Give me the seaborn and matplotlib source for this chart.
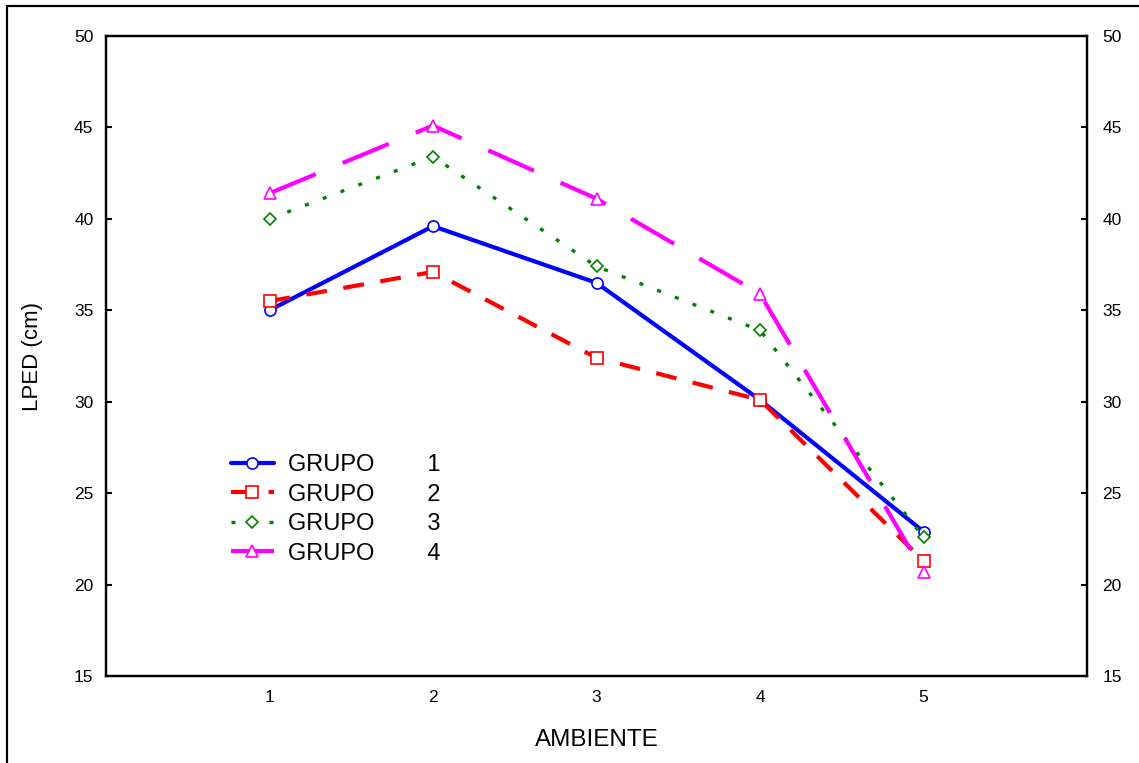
import matplotlib
matplotlib.use("Agg")
import matplotlib.pyplot as plt
from matplotlib.lines import Line2D
import seaborn as sns
import pandas as pd

sns.set_theme(style="white")
plt.rcParams['font.family'] = ['Liberation Sans', 'DejaVu Sans']
plt.rcParams['text.color'] = 'black'
plt.rcParams['axes.labelcolor'] = 'black'

ambiente = [1, 2, 3, 4, 5]
grupo1 = [35.0, 39.6, 36.5, 30.1, 22.9]
grupo2 = [35.5, 37.1, 32.4, 30.1, 21.3]
grupo3 = [40.0, 43.4, 37.4, 33.9, 22.6]
grupo4 = [41.4, 45.1, 41.1, 35.9, 20.7]
labels = ["GRUPO        1", "GRUPO        2", "GRUPO        3", "GRUPO        4"]
yticks = [15, 20, 25, 30, 35, 40, 45, 50]

series = [grupo1, grupo2, grupo3, grupo4]
colors = ["#0000ff", "#ff0000", "#008000", "#ff00ff"]
markers = ["o", "s", "D", "^"]
msizes = [8, 8, 6, 9]
lws = [3.0, 3.0, 2.4, 3.0]
dashes = [None, (5, 4), (1.2, 4.5), (12, 7)]

fig = plt.figure(figsize=(11.39, 7.63), dpi=100)
ax = fig.add_axes([106/1139, 1 - 676/763, (1087-106)/1139, (676-36)/763])

for vals, lab, c, m, ms, lw, d in zip(series, labels, colors, markers, msizes, lws, dashes):
    df = pd.DataFrame({"AMBIENTE": ambiente, "LPED": vals})
    sns.lineplot(data=df, x="AMBIENTE", y="LPED", ax=ax, color=c, lw=lw,
                 marker=m, ms=ms, mfc="white", mec=c, mew=1.2, label=lab)
    line = ax.get_lines()[-1]
    if d is not None:
        line.set_dashes(d)

ax.set_xlim(0, 6)
ax.set_ylim(15, 50)
ax.set_xticks(ambiente)
ax.set_xticklabels([str(a) for a in ambiente])
ax.set_yticks(yticks)
ax.set_yticklabels([str(t) for t in yticks])
ax.set_xlabel("AMBIENTE", fontsize=17.5, labelpad=17, color="black")
ax.set_ylabel("LPED (cm)", fontsize=16, labelpad=22, color="black")
for s in ax.spines.values():
    s.set_color("black")
    s.set_linewidth(1.6)
ax.tick_params(axis="both", direction="in", length=4, width=1.5, colors="black",
               labelsize=12.5, pad=9)
ax.tick_params(axis="x", pad=10)

ax2 = ax.twinx()
ax2.set_ylim(15, 50)
ax2.set_yticks(yticks)
ax2.set_yticklabels([str(t) for t in yticks])
ax2.tick_params(axis="y", direction="in", length=4, width=1.5, colors="black",
                labelsize=12.5, pad=11)
for s in ax2.spines.values():
    s.set_linewidth(1.6)
    s.set_color("black")

leg = ax.legend(loc="upper left", bbox_to_anchor=(0.106, 0.38), frameon=False,
                fontsize=17, handlelength=1.8, handletextpad=0.6, labelspacing=0.32)
for t in leg.get_texts():
    t.set_color("black")

fig.add_artist(Line2D([7/1139, 7/1139], [0, 1 - 6/763], color="black", lw=1.6,
                      transform=fig.transFigure))
fig.add_artist(Line2D([7/1139, 1], [1 - 6/763, 1 - 6/763], color="black", lw=1.6,
                      transform=fig.transFigure))

fig.savefig("out.png", dpi=100)
